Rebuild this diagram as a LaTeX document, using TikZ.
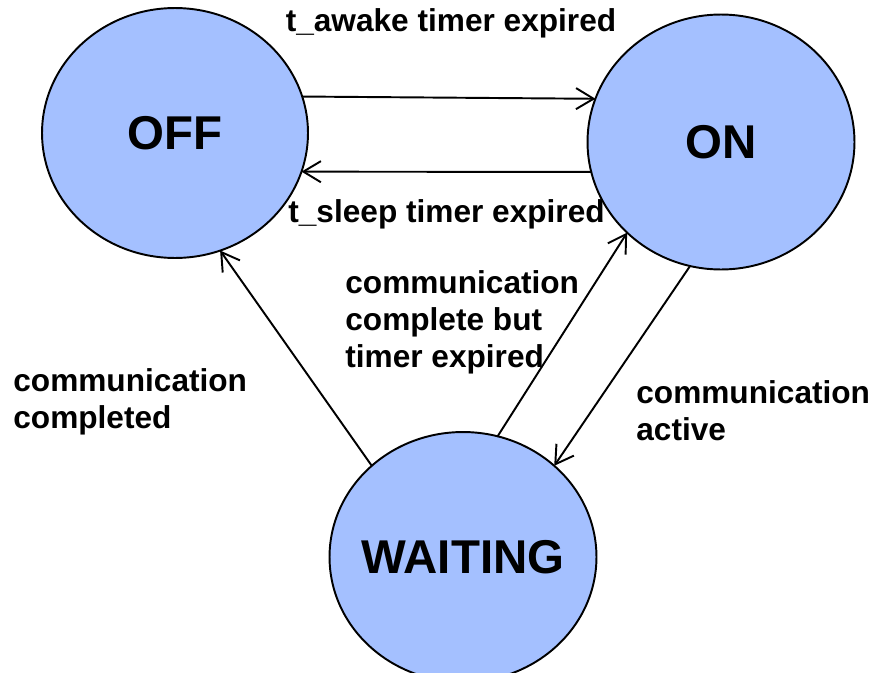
\documentclass[tikz,border=0pt]{standalone}
\usepackage{fontspec}
\setmainfont{Liberation Sans}
\usetikzlibrary{shapes.geometric,arrows.meta}
\definecolor{stateblue}{RGB}{164,192,255}
\begin{document}
\begin{tikzpicture}[line cap=round, line join=round, font=\bfseries\fontsize{18}{21}\selectfont, >={Straight Barb[length=10pt,width=12pt]}, x=0.02cm, y=-0.02cm]
			\tikzset{state/.style={ellipse, draw, line width=1.1pt, fill=stateblue, inner sep=0pt, outer sep=0pt, font=\bfseries\fontsize{27}{30}\selectfont}}
			\tikzset{edge/.style={->, line width=1.1pt}}
			\useasboundingbox (0,0) rectangle (876,673);
			\clip (0,0) rectangle (876,673);
			\node[state, minimum width=5.32cm, minimum height=5cm] (off) at (175,133) {OFF};
			\node[state, minimum width=5.34cm, minimum height=5.1cm] (on) at (721,142) {ON};
			\node[state, inner xsep=-6pt, minimum width=5.34cm, minimum height=5cm] (waiting) at (463,557) {WAITING};
			\draw[edge] (off.16.9)--(on.161.3);
			\draw[edge] (on.193.2)--(off.343.7);
			\draw[edge] (waiting.135.3)--(off.291.8);
			\draw[edge] (waiting.74.5)--(on.224.4);
			\draw[edge] (on.256.3)--(waiting.45.3);
			\node[anchor=base] (awake) at (451,31) {t\_awake timer expired};
			\node[anchor=base west, inner sep=0pt] (sleep) at (288,222) {t\_sleep timer expired};
			\node[anchor=west, align=left, inner sep=0pt] (expired) at (345,322) {communication\\complete but\\timer expired};
			\node[anchor=west, align=left, inner sep=0pt] (completed) at (13,402) {communication\\completed};
			\node[anchor=west, align=left, inner sep=0pt] (active) at (636,411) {communication\\active};
		\end{tikzpicture}
\end{document}
